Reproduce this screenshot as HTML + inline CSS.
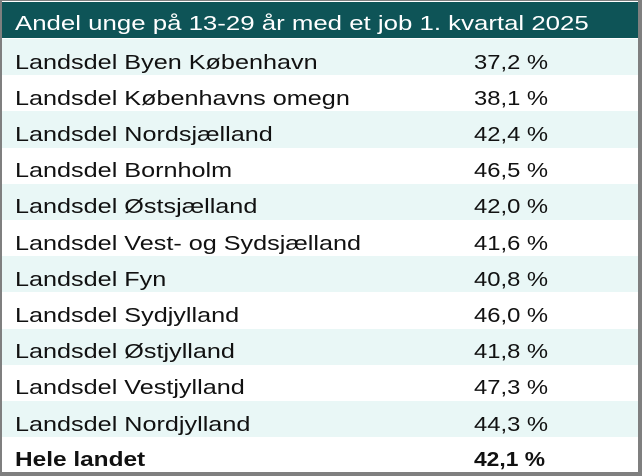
<!DOCTYPE html>
<html><head><meta charset="utf-8">
<style>
html,body{margin:0;padding:0;}
body{width:642px;height:476px;position:relative;overflow:hidden;background:#fff;font-family:"Liberation Sans",Arial,sans-serif;}
.frame{position:absolute;left:0;top:0;width:642px;height:476px;background:#7f7f7f;}
.inner{position:absolute;left:2px;top:1px;width:636px;height:471px;background:#fff;overflow:hidden;}
.hdr{position:absolute;left:0;top:1px;width:636px;height:36px;background:#0e5457;}
.row{position:absolute;left:0;width:636px;height:36.2px;}
.row.l{background:#e9f7f6;}
.t{position:absolute;font-size:20px;line-height:23px;white-space:nowrap;color:#111;transform-origin:0 0;}
.n{transform:scaleX(1.26);left:13px;}
.v{transform:scaleX(1.19);left:472px;}
.h{color:#fff;transform:scaleX(1.29);left:13px;top:10.6px;}
.b{font-weight:bold;}
.nb{transform:scaleX(1.22);left:13px;}
.vb{transform:scaleX(1.14);left:472px;}
</style></head><body>
<div class="frame"></div>
<div class="inner">
<div class="hdr"><span class="t h">Andel unge på 13-29 år med et job 1. kvartal 2025</span></div>

<div class="row l" style="top:38px"><span class="t n" style="top:12.6px">Landsdel Byen København</span><span class="t v" style="top:12.6px">37,2 %</span></div>
<div class="row" style="top:74.2px"><span class="t n" style="top:12.6px">Landsdel Københavns omegn</span><span class="t v" style="top:12.6px">38,1 %</span></div>
<div class="row l" style="top:110.4px"><span class="t n" style="top:12.6px">Landsdel Nordsjælland</span><span class="t v" style="top:12.6px">42,4 %</span></div>
<div class="row" style="top:146.6px"><span class="t n" style="top:12.6px">Landsdel Bornholm</span><span class="t v" style="top:12.6px">46,5 %</span></div>
<div class="row l" style="top:182.8px"><span class="t n" style="top:12.6px">Landsdel Østsjælland</span><span class="t v" style="top:12.6px">42,0 %</span></div>
<div class="row" style="top:219px"><span class="t n" style="top:12.6px">Landsdel Vest- og Sydsjælland</span><span class="t v" style="top:12.6px">41,6 %</span></div>
<div class="row l" style="top:255.2px"><span class="t n" style="top:12.6px">Landsdel Fyn</span><span class="t v" style="top:12.6px">40,8 %</span></div>
<div class="row" style="top:291.4px"><span class="t n" style="top:12.6px">Landsdel Sydjylland</span><span class="t v" style="top:12.6px">46,0 %</span></div>
<div class="row l" style="top:327.6px"><span class="t n" style="top:12.6px">Landsdel Østjylland</span><span class="t v" style="top:12.6px">41,8 %</span></div>
<div class="row" style="top:363.8px"><span class="t n" style="top:12.6px">Landsdel Vestjylland</span><span class="t v" style="top:12.6px">47,3 %</span></div>
<div class="row l" style="top:400px"><span class="t n" style="top:12.6px">Landsdel Nordjylland</span><span class="t v" style="top:12.6px">44,3 %</span></div>
<div class="row" style="top:436.2px"><span class="t b nb" style="top:12px">Hele landet</span><span class="t b vb" style="top:12px">42,1 %</span></div>
</div>
</body></html>
